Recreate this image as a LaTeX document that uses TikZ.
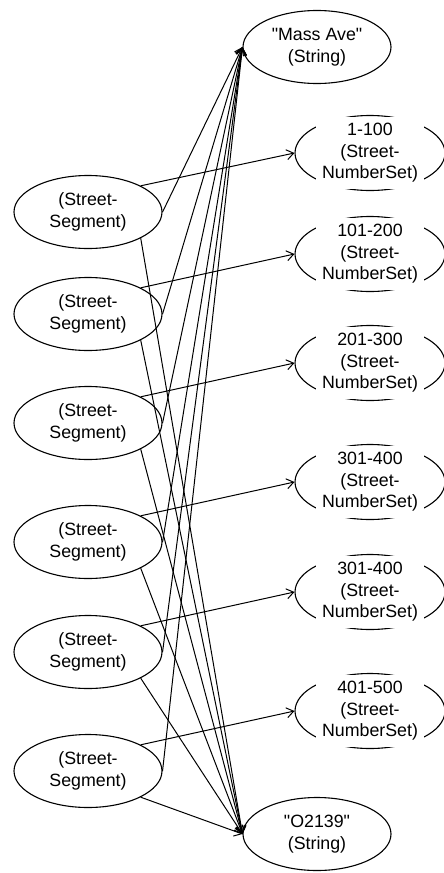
\documentclass[tikz,border=0pt]{standalone}
\usepackage{fontspec}
\setmainfont{Liberation Sans}
\usetikzlibrary{shapes.geometric,arrows.meta}
\begin{document}
\begin{tikzpicture}[x=1pt,y=-1pt,
  every node/.style={font=\fontsize{17.8}{21.5}\selectfont, align=center},
  oval/.style={ellipse, draw, line width=1.1pt, minimum width=148pt, minimum height=73pt, inner sep=0pt},
  nsetoval/.style={ellipse, draw, line width=1.1pt, minimum width=150pt, minimum height=75pt, inner sep=0pt},
  masktext/.style={fill=white, minimum width=108pt, minimum height=72pt, inner sep=0pt},
  link/.style={line width=1pt, -{Straight Barb[length=7pt,width=10pt]}}
]
\useasboundingbox (0,0) rectangle (444,873);

\node[oval] (mass) at (317,47) {\textquotedbl Mass Ave\textquotedbl\\(String)};
\node[oval] (zip) at (317,834) {\textquotedbl O2139\textquotedbl\\(String)};

\foreach \i/\y in {1/212,2/314,3/423,4/542,5/652,6/771}
  \node[oval] (s\i) at (88,\y) {(Street-\\Segment)};

\foreach \i/\y/\t in {1/153/1-100,2/254/101-200,3/363/201-300,4/482/301-400,5/592/301-400,6/711/401-500}{
  \node[nsetoval] (n\i) at (370,\y) {};
  \node[masktext] (t\i) at (370,\y) {\t\\(Street-\\NumberSet)};
}

\foreach \i in {1,...,6}{
  \draw[link] (s\i.east) -- (mass.west);
  \draw[link] (s\i.north east) -- (n\i.west);
  \draw[link] (s\i.south east) -- (zip.west);
}
\end{tikzpicture}
\end{document}
